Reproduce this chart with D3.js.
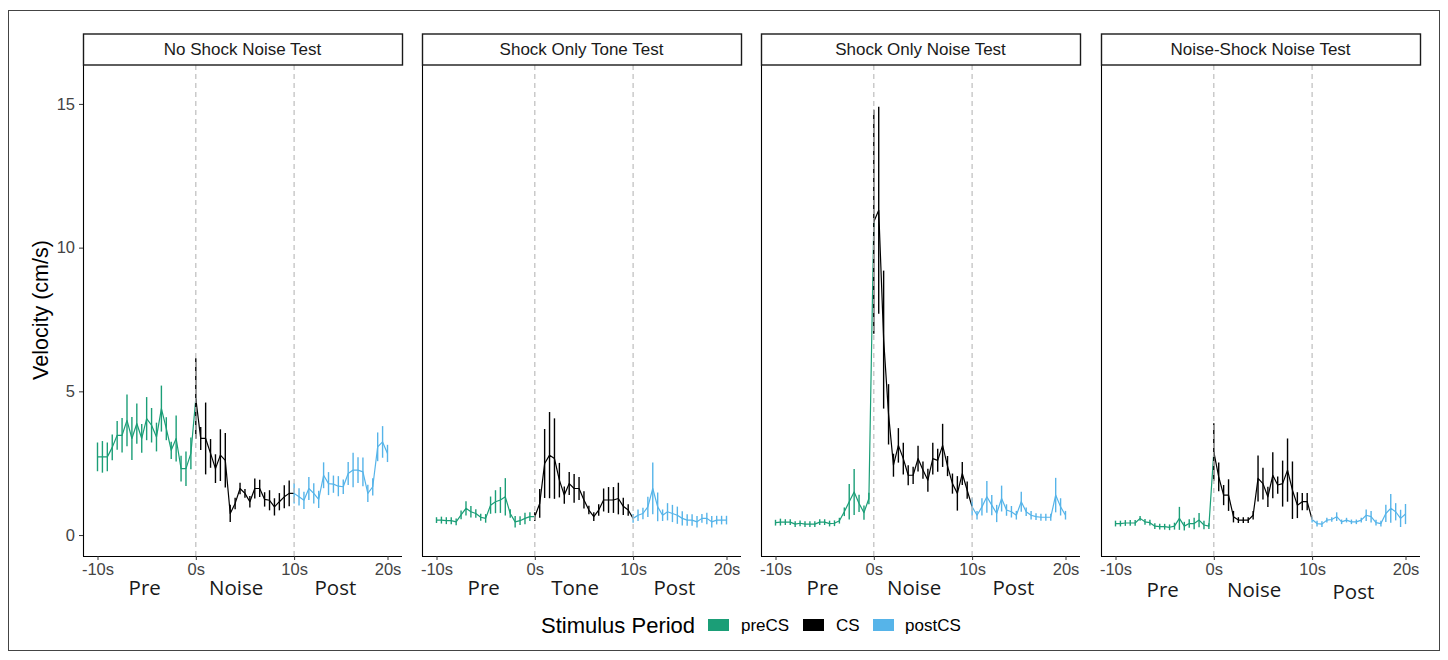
<!DOCTYPE html>
<html>
<head>
<meta charset="utf-8">
<script src="https://cdn.jsdelivr.net/npm/d3@7"></script>
<style>
  html, body { margin: 0; padding: 0; background: #fff; }
  svg { display: block; }
</style>
</head>
<body>
<svg id="chart" width="1448" height="660"></svg>
<script>
// ---------------- DATA ----------------
const panelTitles = ["No Shock Noise Test", "Shock Only Tone Test", "Shock Only Noise Test", "Noise-Shock Noise Test"];
const csNames = ["Noise", "Tone", "Noise", "Noise"];
const periodNames = ["preCS", "CS", "postCS"];
const xTickValues = [-10, 0, 10, 19.5];
const xTickLabels = ["-10s", "0s", "10s", "20s"];
const yTickValues = [0, 5, 10, 15];
const preTimes  = d3.range(-10, 0, 0.5);
const csTimes   = d3.range(0, 10, 0.5);
const postTimes = d3.range(10, 20, 0.5);

// Panel 1: No Shock Noise Test
const p1Pre  = [2.72, 2.72, 2.72, 3.05, 3.47, 3.47, 3.99, 3.36, 3.88, 3.36, 4.05, 3.82, 3.41, 4.4, 3.7, 2.95, 3.36, 2.31, 2.31, 2.84];
const p1CS   = [4.75, 3.36, 3.36, 2.84, 2.31, 2.78, 2.6, 0.75, 1.1, 1.62, 1.45, 1.16, 1.62, 1.62, 1.24, 1.21, 0.98, 1.16, 1.33, 1.45];
const p1Post = [1.45, 1.33, 1.21, 1.62, 1.45, 1.24, 2.08, 1.79, 1.77, 1.7, 1.68, 2.14, 2.26, 2.26, 2.2, 1.45, 1.68, 3.07, 3.24, 2.84];
const p1PreSE  = [0.5, 0.55, 0.5, 0.45, 0.5, 0.6, 0.9, 0.75, 0.7, 0.5, 0.75, 0.6, 0.5, 0.8, 0.4, 0.3, 0.8, 0.45, 0.6, 0.55];
const p1CSSE   = [1.4, 0.4, 1.25, 0.5, 0.5, 0.9, 0.95, 0.3, 0.2, 0.2, 0.15, 0.2, 0.35, 0.3, 0.25, 0.35, 0.3, 0.3, 0.4, 0.45];
const p1PostSE = [0.35, 0.3, 0.3, 0.4, 0.35, 0.3, 0.45, 0.4, 0.3, 0.35, 0.25, 0.4, 0.6, 0.45, 0.5, 0.3, 0.3, 0.5, 0.55, 0.3];

// Panel 2: Shock Only Tone Test
const p2Pre  = [0.52, 0.52, 0.5, 0.5, 0.46, 0.7, 0.93, 0.81, 0.75, 0.62, 0.58, 1.04, 1.16, 1.22, 1.33, 0.75, 0.46, 0.5, 0.58, 0.64];
const p2CS   = [0.64, 1.1, 2.49, 2.78, 2.66, 1.91, 1.39, 1.79, 1.62, 1.62, 1.22, 0.87, 0.64, 0.87, 1.22, 1.22, 1.22, 1.27, 1.0, 0.87];
const p2Post = [0.58, 0.69, 0.75, 0.98, 1.62, 0.98, 0.69, 0.81, 0.75, 0.69, 0.58, 0.52, 0.52, 0.46, 0.58, 0.58, 0.46, 0.52, 0.52, 0.52];
const p2PreSE  = [0.1, 0.12, 0.12, 0.12, 0.12, 0.15, 0.25, 0.2, 0.15, 0.12, 0.15, 0.3, 0.4, 0.45, 0.65, 0.15, 0.2, 0.15, 0.2, 0.15];
const p2CSSE   = [0.15, 0.5, 1.2, 1.5, 1.4, 0.6, 0.3, 0.4, 0.5, 0.4, 0.3, 0.15, 0.15, 0.2, 0.4, 0.45, 0.45, 0.55, 0.3, 0.2];
const p2PostSE = [0.15, 0.2, 0.2, 0.35, 0.9, 0.5, 0.2, 0.3, 0.3, 0.3, 0.25, 0.2, 0.2, 0.2, 0.15, 0.2, 0.2, 0.15, 0.15, 0.15];

// Panel 3: Shock Only Noise Test
const p3Pre  = [0.43, 0.45, 0.45, 0.45, 0.38, 0.41, 0.38, 0.38, 0.38, 0.45, 0.45, 0.4, 0.41, 0.5, 0.81, 1.16, 1.5, 1.1, 0.78, 1.27];
const p3CS   = [10.9, 11.3, 6.8, 4.2, 2.43, 3.12, 2.66, 2.08, 2.08, 2.66, 2.26, 1.91, 2.66, 2.6, 3.12, 2.4, 1.79, 1.45, 2.14, 1.56];
const p3Post = [0.98, 0.69, 0.98, 1.33, 1.04, 0.75, 1.27, 0.87, 0.81, 0.69, 1.16, 0.81, 0.69, 0.64, 0.62, 0.62, 0.62, 1.39, 0.98, 0.69];
const p3PreSE  = [0.1, 0.12, 0.1, 0.1, 0.1, 0.1, 0.1, 0.1, 0.1, 0.1, 0.1, 0.1, 0.1, 0.1, 0.15, 0.62, 0.8, 0.3, 0.25, 0.2];
const p3CSSE   = [3.9, 3.6, 2.4, 1.05, 0.4, 0.6, 0.55, 0.35, 0.3, 0.45, 0.3, 0.4, 0.55, 0.4, 0.75, 0.35, 0.35, 0.6, 0.4, 0.3];
const p3PostSE = [0.3, 0.15, 0.3, 0.55, 0.35, 0.3, 0.45, 0.2, 0.2, 0.15, 0.35, 0.15, 0.15, 0.12, 0.12, 0.12, 0.12, 0.6, 0.3, 0.15];

// Panel 4: Noise-Shock Noise Test
const p4Pre  = [0.4, 0.4, 0.42, 0.42, 0.42, 0.58, 0.46, 0.43, 0.31, 0.29, 0.29, 0.27, 0.31, 0.58, 0.31, 0.4, 0.4, 0.52, 0.35, 0.31];
const p4CS   = [2.89, 2.02, 1.39, 1.39, 0.64, 0.52, 0.52, 0.52, 0.69, 1.97, 1.79, 1.33, 2.08, 1.74, 1.79, 2.26, 1.56, 1.04, 1.16, 1.16];
const p4Post = [0.54, 0.4, 0.38, 0.52, 0.54, 0.64, 0.46, 0.52, 0.46, 0.46, 0.52, 0.69, 0.64, 0.43, 0.4, 0.75, 0.93, 0.81, 0.58, 0.73];
const p4PreSE  = [0.1, 0.1, 0.1, 0.1, 0.1, 0.08, 0.1, 0.1, 0.1, 0.1, 0.1, 0.1, 0.12, 0.4, 0.15, 0.15, 0.2, 0.25, 0.15, 0.1];
const p4CSSE   = [1.0, 0.5, 0.35, 0.55, 0.2, 0.1, 0.1, 0.1, 0.15, 0.8, 0.55, 0.35, 0.8, 0.3, 0.8, 1.1, 1.0, 0.45, 0.3, 0.3];
const p4PostSE = [0.1, 0.1, 0.1, 0.08, 0.08, 0.15, 0.08, 0.08, 0.08, 0.08, 0.08, 0.2, 0.2, 0.1, 0.1, 0.3, 0.5, 0.3, 0.3, 0.35];

const panelsMean = [[p1Pre, p1CS, p1Post], [p2Pre, p2CS, p2Post], [p3Pre, p3CS, p3Post], [p4Pre, p4CS, p4Post]];
const panelsSE   = [[p1PreSE, p1CSSE, p1PostSE], [p2PreSE, p2CSSE, p2PostSE], [p3PreSE, p3CSSE, p3PostSE], [p4PreSE, p4CSSE, p4PostSE]];
const periodTimes = [preTimes, csTimes, postTimes];

// ---------------- STYLE / LAYOUT ----------------
const colors = d3.scaleOrdinal().domain(periodNames).range(["#1B9E77", "#000000", "#56B4E9"]);
const panelLefts = [83, 422, 761, 1101];
const panelW = 319;
const plotTop = 65, plotBottom = 556;
const stripTop = 34;
const font = "'Liberation Sans', Arial, sans-serif";
const labelFont = "'Open Sans', 'Noto Sans', sans-serif";
const periodLabelY = [[588, 588, 588], [588, 588, 588], [588, 588, 588], [590, 590, 592]];
const periodLabelT = [-5.2, 4.1, 14.2];

const svg = d3.select("#chart");
svg.append("rect").attr("x", 0).attr("y", 0).attr("width", 1448).attr("height", 660).attr("fill", "#fff");
svg.append("rect").attr("x", 8.5).attr("y", 10.5).attr("width", 1431).attr("height", 640)
  .attr("fill", "none").attr("stroke", "#444").attr("stroke-width", 1);

const y = d3.scaleLinear().domain([-0.729, 16.354]).range([plotBottom, plotTop]);

panelTitles.forEach((title, p) => {
  const left = panelLefts[p];
  const x = d3.scaleLinear().domain([-11.475, 20.975]).range([left, left + panelW]);
  const g = svg.append("g");

  // data
  const means = panelsMean[p], ses = panelsSE[p];
  const dataG = g.append("g");
  periodNames.forEach((name, k) => {
    const pts = periodTimes[k].map((t, i) => ({ t, v: means[k][i], se: ses[k][i] }));
    const linePts = pts.slice();
    if (k < 2) linePts.push({ t: periodTimes[k + 1][0], v: means[k + 1][0] });
    const col = colors(name);
    dataG.append("path").datum(linePts)
      .attr("d", d3.line().x(d => x(d.t)).y(d => y(d.v)))
      .attr("fill", "none").attr("stroke", col).attr("stroke-width", 1.2)
      .attr("stroke-linejoin", "round");
    dataG.selectAll(null).data(pts).enter().append("line")
      .attr("x1", d => x(d.t)).attr("x2", d => x(d.t))
      .attr("y1", d => y(d.v - d.se)).attr("y2", d => y(d.v + d.se))
      .attr("stroke", col).attr("stroke-width", 1.4);
  });

  // dashed vlines at 0s and 10s
  g.selectAll(null).data([0, 10]).enter().append("line")
    .attr("x1", d => x(d)).attr("x2", d => x(d))
    .attr("y1", plotTop).attr("y2", plotBottom)
    .attr("stroke", "#bdbdbd").attr("stroke-width", 1.2).attr("stroke-dasharray", "5,4");

  // x axis
  const xAxis = d3.axisBottom(x).tickValues(xTickValues)
    .tickFormat((d, i) => xTickLabels[i]).tickSizeOuter(0).tickSize(4).tickPadding(3);
  const xg = g.append("g").attr("transform", `translate(0,${plotBottom})`).call(xAxis);
  xg.select(".domain").attr("stroke", "#000").attr("stroke-width", 1.1)
    .attr("d", `M${left},0.5H${left + panelW}`);
  xg.selectAll(".tick line").attr("stroke", "#333");
  xg.selectAll(".tick text").attr("fill", "#444").style("font-family", font).style("font-size", "16.5px");

  // y axis line
  if (p === 0) {
    const yAxis = d3.axisLeft(y).tickValues(yTickValues).tickSize(4).tickPadding(4).tickSizeOuter(0);
    const yg = g.append("g").attr("transform", `translate(${left},0)`).call(yAxis);
    yg.select(".domain").attr("d", `M0.5,${plotTop}V${plotBottom}`).attr("stroke", "#000").attr("stroke-width", 1.1);
    yg.selectAll(".tick line").attr("stroke", "#333");
    yg.selectAll(".tick text").attr("fill", "#444").style("font-family", font).style("font-size", "16.5px");
  } else {
    g.append("line").attr("x1", left + 0.5).attr("x2", left + 0.5).attr("y1", plotTop).attr("y2", plotBottom)
      .attr("stroke", "#000").attr("stroke-width", 1.1);
  }

  // strip
  g.append("rect").attr("x", left + 0.5).attr("y", stripTop).attr("width", panelW).attr("height", plotTop - stripTop)
    .attr("fill", "#fff").attr("stroke", "#1a1a1a").attr("stroke-width", 1.4);
  g.append("text").attr("x", left + panelW / 2).attr("y", (stripTop + plotTop) / 2 + 5.5)
    .attr("text-anchor", "middle").style("font-family", font).style("font-size", "17px").attr("fill", "#1a1a1a")
    .text(title);

  // period labels
  const names = ["Pre", csNames[p], "Post"];
  names.forEach((n, k) => {
    g.append("text").attr("x", x(periodLabelT[k])).attr("y", periodLabelY[p][k] + 7)
      .attr("text-anchor", "middle").style("font-family", labelFont).style("font-size", "20.5px")
      .attr("fill", "#1a1a1a").text(n);
  });
});

// y axis title
svg.append("text").attr("transform", "translate(48,310) rotate(-90)")
  .attr("text-anchor", "middle").style("font-family", font).style("font-size", "21.5px").attr("fill", "#000")
  .text("Velocity (cm/s)");

// legend
const lg = svg.append("g");
lg.append("text").attr("x", 541).attr("y", 633).style("font-family", font).style("font-size", "22px")
  .attr("fill", "#000").text("Stimulus Period");
const keyX = [708, 803, 873];
const keyTextX = [741, 836, 905];
periodNames.forEach((n, k) => {
  lg.append("rect").attr("x", keyX[k]).attr("y", 619).attr("width", 21).attr("height", 12).attr("fill", colors(n));
  lg.append("text").attr("x", keyTextX[k]).attr("y", 631).style("font-family", font).style("font-size", "17px")
    .attr("fill", "#000").text(n);
});
</script>
</body>
</html>
